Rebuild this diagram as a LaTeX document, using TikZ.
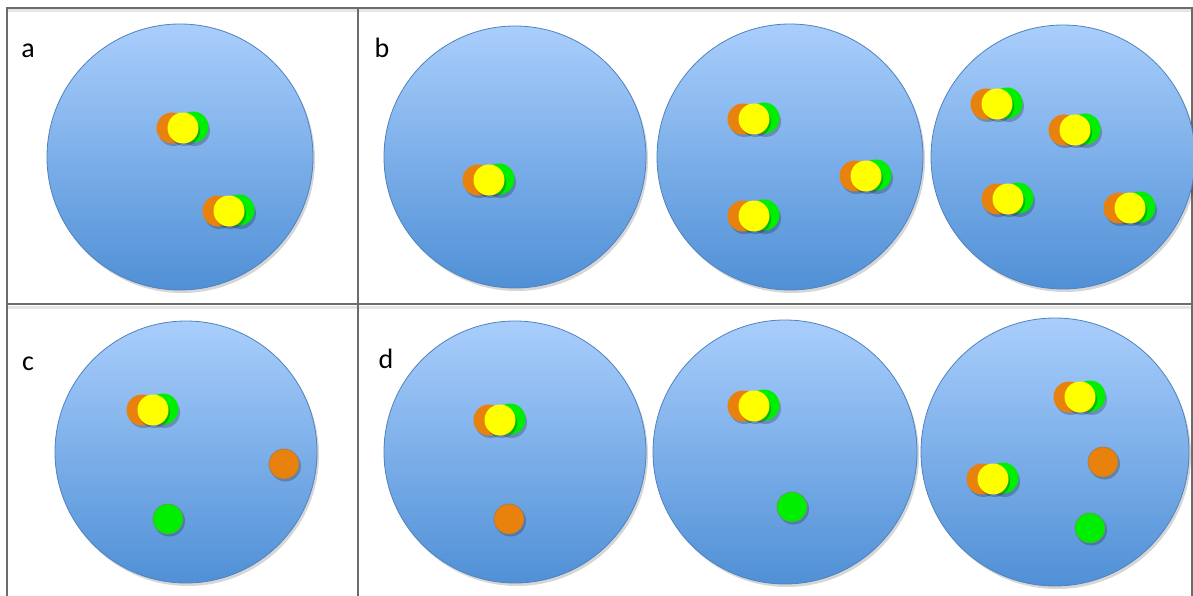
\documentclass[tikz,border=0pt]{standalone}
\usepackage{fontspec}
\setmainfont{Carlito}
\begin{document}
\begin{tikzpicture}[x=1pt,y=-1pt,
  frameline/.style={draw=gray!85!black, line width=2.6pt},
  frameshadow/.style={draw=black!10, line width=3pt},
  dish/.style={draw=dishedge, line width=0.8pt, top color=dishtop, bottom color=dishbot},
  dishshadow/.style={fill=black, opacity=0.16},
  lbl/.style={font=\fontsize{28}{30}\selectfont, inner sep=0pt, anchor=base},
  dotshadow/.style={fill=black, opacity=0.22},
  trio/.pic={
    \fill[dotshadow] (11.5,2.5) circle (15.5pt);
    \fill[dotgreen] (10,-1) circle (15.5pt);
    \fill[dotshadow] (-9.5,2.5) circle (15.5pt);
    \fill[dotorange] (-11,0) circle (15.5pt);
    \fill[dotshadow] (1.5,2.5) circle (15.5pt);
    \fill[dotyellow] (0,0) circle (15.5pt);
  },
  odot/.pic={
    \fill[dotshadow] (1.5,2) circle (15.5pt);
    \fill[dotorange, draw=gray!70!dotorange, line width=0.8pt] (0,0) circle (15pt);
  },
  gdot/.pic={
    \fill[dotshadow] (1.5,2) circle (15.5pt);
    \fill[dotgreen, draw=gray!70!dotgreen, line width=0.8pt] (0,0) circle (15pt);
  }
]
\definecolor{dishtop}{HTML}{A9CEFC}
\definecolor{dishbot}{HTML}{5090D6}
\definecolor{dishedge}{HTML}{4F82BE}
\definecolor{dotorange}{HTML}{E8820C}
\definecolor{dotyellow}{HTML}{FFFF00}
\definecolor{dotgreen}{HTML}{00EE00}
\useasboundingbox (0,0) rectangle (1193,596);
% frame shadows
\draw[frameshadow] (7,11) -- (1192,11);
\draw[frameshadow] (7,307) -- (1192,307);
% frame
\draw[frameline] (7,610) -- (7,8) -- (1192,8) -- (1192,610);
\draw[frameline] (358,8) -- (358,610);
\draw[frameline] (7,304) -- (1192,304);
% dishes
\foreach \cx/\cy/\r [count=\i] in {180/157/133, 515/157/131, 790/157/133, 1063/157/132,
                        186/452/131, 515/452/131, 785/452/132, 1055/452/134}{
  \fill[dishshadow] (\cx+2,\cy+3) circle (\r pt);
  \path[dish] (\cx,\cy) circle (\r pt);
}
% labels
\node[lbl] (la) at (28,58) {a};
\node[lbl] (lb) at (382,58) {b};
\node[lbl] (lc) at (28,370) {c};
\node[lbl] (ld) at (386,368) {d};
% panel a
\pic at (183,128) {trio};
\pic at (229,211) {trio};
% panel b
\pic at (489,180) {trio};
\pic at (754,119) {trio};
\pic at (866,176) {trio};
\pic at (754,216) {trio};
\pic at (997,104) {trio};
\pic at (1075,130) {trio};
\pic at (1008,199) {trio};
\pic at (1130,208) {trio};
% panel c
\pic at (153,410) {trio};
\pic at (284,464) {odot};
\pic at (168,519) {gdot};
% panel d
\pic at (500,420) {trio};
\pic at (509,519) {odot};
\pic at (754,406) {trio};
\pic at (792,507) {gdot};
\pic at (1080,397) {trio};
\pic at (993,479) {trio};
\pic at (1103,462) {odot};
\pic at (1090,528) {gdot};
\end{tikzpicture}
\end{document}
